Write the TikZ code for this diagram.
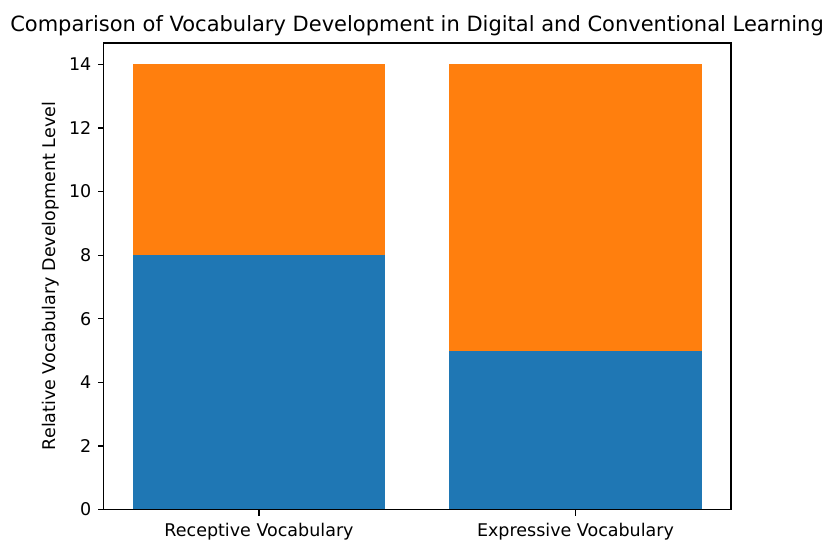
\documentclass[tikz,border=0pt]{standalone}
\usepackage{fontspec}
\setmainfont{DejaVu Sans}
\definecolor{mplblue}{HTML}{1F77B4}
\definecolor{mplorange}{HTML}{FF7F0E}
\begin{document}
\begin{tikzpicture}[x=1pt,y=-1pt,
  ticklabel/.style={font=\fontsize{17.5}{20}\selectfont, inner sep=0pt},
  spine/.style={line width=1.3pt, black},
  tickmark/.style={line width=1.3pt, black}]
\useasboundingbox (0,0) rectangle (825,541);
% data scale: value v maps to y = 509.5 - 31.79 v
\def\yz{509.5}
\def\ys{31.79}
% stacked bars
\fill[mplblue]   (133,{\yz})          rectangle (385,{\yz-8*\ys});
\fill[mplorange] (133,{\yz-8*\ys})    rectangle (385,{\yz-14*\ys});
\fill[mplblue]   (449,{\yz})          rectangle (702,{\yz-5*\ys});
\fill[mplorange] (449,{\yz-5*\ys})    rectangle (702,{\yz-14*\ys});
% axes frame
\draw[spine] (103.5,43) rectangle (731,\yz);
% y ticks
\foreach \v in {0,2,...,14}{
  \draw[tickmark] (103.5,{\yz-\v*\ys}) -- (97.5,{\yz-\v*\ys});
  \node[ticklabel, anchor=east] (yt\v) at (91.5,{\yz-\v*\ys}) {\v};
}
% x ticks
\draw[tickmark] (259,\yz) -- (259,515.5);
\draw[tickmark] (575.5,\yz) -- (575.5,515.5);
\node[ticklabel, anchor=base] (xt1) at (259,536) {Receptive Vocabulary};
\node[ticklabel, anchor=base] (xt2) at (575.5,536) {Expressive Vocabulary};
% axis label and title
\node[ticklabel, rotate=90, anchor=center] (ylab) at (51,276) {Relative Vocabulary Development Level};
\node[font=\fontsize{21}{25}\selectfont, inner sep=0pt, anchor=base] (title) at (417,31)
  {Comparison of Vocabulary Development in Digital and Conventional Learning};
\end{tikzpicture}
\end{document}
